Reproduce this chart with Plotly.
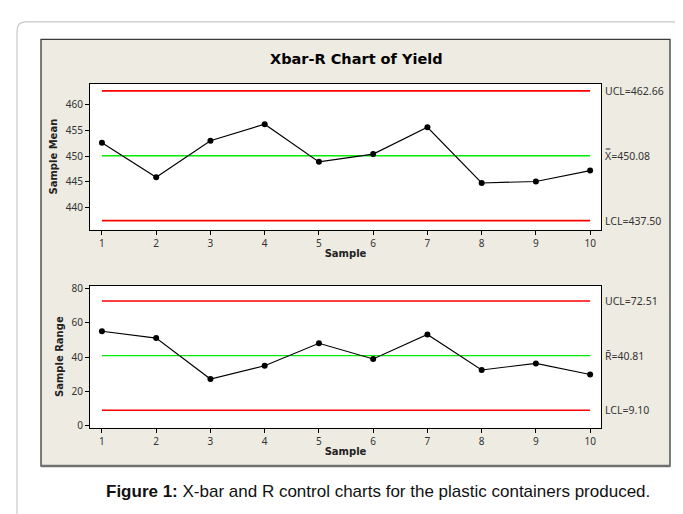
import plotly.graph_objects as go

W, H = 683, 514

samples = [1, 2, 3, 4, 5, 6, 7, 8, 9, 10]
sample_means = [452.6, 445.9, 453.0, 456.2, 448.9, 450.4, 455.6, 444.8, 445.1, 447.2]
sample_ranges = [55.0, 51.0, 27.2, 34.9, 48.0, 38.9, 53.1, 32.5, 36.3, 29.8]

xbar_ucl, xbar_cl, xbar_lcl = 462.66, 450.08, 437.50
r_ucl, r_cl, r_lcl = 72.51, 40.81, 9.10

mean_ticks = [440, 445, 450, 455, 460]
range_ticks = [0, 20, 40, 60, 80]

title_text = "Xbar-R Chart of Yield"
caption_bold = "Figure 1:"
caption_rest = " X-bar and R control charts for the plastic containers produced."


def px(x):
    return x / W


def py(y):
    return 1 - y / H


fig = go.Figure()

TICKFONT = dict(family="Noto Sans", size=10, color="#333333")
TITLEFONT = dict(family="DejaVu Sans", size=10, color="#222222")

# Xbar chart
for yv, col, w in [(xbar_ucl, "#ff0000", 1.6), (xbar_cl, "#00ee00", 1.3), (xbar_lcl, "#ff0000", 1.6)]:
    fig.add_trace(go.Scatter(x=[samples[0], samples[-1]], y=[yv, yv], mode="lines",
                             line=dict(color=col, width=w), xaxis="x", yaxis="y",
                             showlegend=False, hoverinfo="skip"))
fig.add_trace(go.Scatter(x=samples, y=sample_means, mode="lines+markers",
                         line=dict(color="black", width=1.1), marker=dict(color="black", size=6),
                         xaxis="x", yaxis="y", showlegend=False))

# R chart
for yv, col, w in [(r_ucl, "#ff0000", 1.6), (r_cl, "#00ee00", 1.3), (r_lcl, "#ff0000", 1.6)]:
    fig.add_trace(go.Scatter(x=[samples[0], samples[-1]], y=[yv, yv], mode="lines",
                             line=dict(color=col, width=w), xaxis="x2", yaxis="y2",
                             showlegend=False, hoverinfo="skip"))
fig.add_trace(go.Scatter(x=samples, y=sample_ranges, mode="lines+markers",
                         line=dict(color="black", width=1.1), marker=dict(color="black", size=6),
                         xaxis="x2", yaxis="y2", showlegend=False))

xdom = [px(82), px(593)]
common_x = dict(range=[0.78, 10.2], tickvals=samples, ticks="outside", ticklen=4,
                tickcolor="black", showline=True, linecolor="black", linewidth=1, mirror=True,
                showgrid=False, zeroline=False, tickfont=TICKFONT,
                title=dict(text="<b>Sample</b>", font=TITLEFONT, standoff=1))
common_y = dict(ticks="outside", ticklen=4, tickcolor="black", showline=True,
                linecolor="black", linewidth=1, mirror=True, showgrid=False,
                zeroline=False, tickfont=TICKFONT)

fig.update_layout(
    width=W, height=H,
    margin=dict(l=0, r=0, t=0, b=0),
    paper_bgcolor="white",
    plot_bgcolor="white",
    xaxis=dict(domain=xdom, anchor="y", **common_x),
    yaxis=dict(domain=[py(221), py(72)], anchor="x", range=[435.74, 464.07],
               tickvals=mean_ticks,
               title=dict(text="<b>Sample Mean</b>", font=TITLEFONT, standoff=6),
               **common_y),
    xaxis2=dict(domain=xdom, anchor="y2", **common_x),
    yaxis2=dict(domain=[py(423), py(278)], anchor="x2", range=[-1.1, 81.5],
                tickvals=range_ticks,
                title=dict(text="<b>Sample Range</b>", font=TITLEFONT, standoff=6),
                **common_y),
)

shapes = []
# outer card with rounded corners
r = 9
path = (f"M {px(9)},{py(516)} L {px(9)},{py(9 + r)} Q {px(9)},{py(9)} {px(9 + r)},{py(9)} "
        f"L {px(682 - r)},{py(9)} Q {px(682)},{py(9)} {px(682)},{py(9 + r)} L {px(682)},{py(516)}")
shapes.append(dict(type="path", xref="paper", yref="paper", path=path,
                   line=dict(color="#c8c8c8", width=1.2), layer="below"))
# beige panel
shapes.append(dict(type="rect", xref="paper", yref="paper", x0=px(33), x1=px(662),
                   y0=py(462), y1=py(27), fillcolor="#eeebe2",
                   line=dict(color="#3a3a3a", width=1.3), layer="below"))
# bottom shadow border of panel
shapes.append(dict(type="line", xref="paper", yref="paper", x0=px(33), x1=px(662),
                   y0=py(462), y1=py(462), line=dict(color="#707070", width=2.5), layer="below"))
# white plot areas
shapes.append(dict(type="rect", xref="x domain", yref="y domain", x0=0, x1=1, y0=0, y1=1,
                   fillcolor="white", line=dict(width=0), layer="below"))
shapes.append(dict(type="rect", xref="x2 domain", yref="y2 domain", x0=0, x1=1, y0=0, y1=1,
                   fillcolor="white", line=dict(width=0), layer="below"))
fig.update_layout(shapes=shapes)

LBLFONT = dict(family="Noto Sans", size=10.5, color="#333333")
annotations = [
    dict(text=f"<b>{title_text}</b>", x=px(348), y=py(46.5), xref="paper", yref="paper",
         showarrow=False, xanchor="center", yanchor="middle",
         font=dict(family="DejaVu Sans", size=14.5, color="black")),
    dict(text=f"UCL={xbar_ucl:.2f}", x=px(595), y=xbar_ucl, xref="paper", yref="y",
         showarrow=False, xanchor="left", yanchor="middle", font=LBLFONT),
    dict(text=f"X\u033F={xbar_cl:.2f}", x=px(595), y=xbar_cl, xref="paper", yref="y",
         showarrow=False, xanchor="left", yanchor="middle", font=LBLFONT),
    dict(text=f"LCL={xbar_lcl:.2f}", x=px(595), y=xbar_lcl, xref="paper", yref="y",
         showarrow=False, xanchor="left", yanchor="middle", font=LBLFONT),
    dict(text=f"UCL={r_ucl:.2f}", x=px(595), y=r_ucl, xref="paper", yref="y2",
         showarrow=False, xanchor="left", yanchor="middle", font=LBLFONT),
    dict(text=f"R\u0304={r_cl:.2f}", x=px(595), y=r_cl, xref="paper", yref="y2",
         showarrow=False, xanchor="left", yanchor="middle", font=LBLFONT),
    dict(text=f"LCL={r_lcl:.2f}", x=px(595), y=r_lcl, xref="paper", yref="y2",
         showarrow=False, xanchor="left", yanchor="middle", font=LBLFONT),
    dict(text=f"<b>{caption_bold}</b>{caption_rest}", x=px(370), y=py(488), xref="paper",
         yref="paper", showarrow=False, xanchor="center", yanchor="middle",
         font=dict(family="Liberation Sans", size=17, color="#111111")),
]
fig.update_layout(annotations=annotations)

fig.write_html("out.html")
